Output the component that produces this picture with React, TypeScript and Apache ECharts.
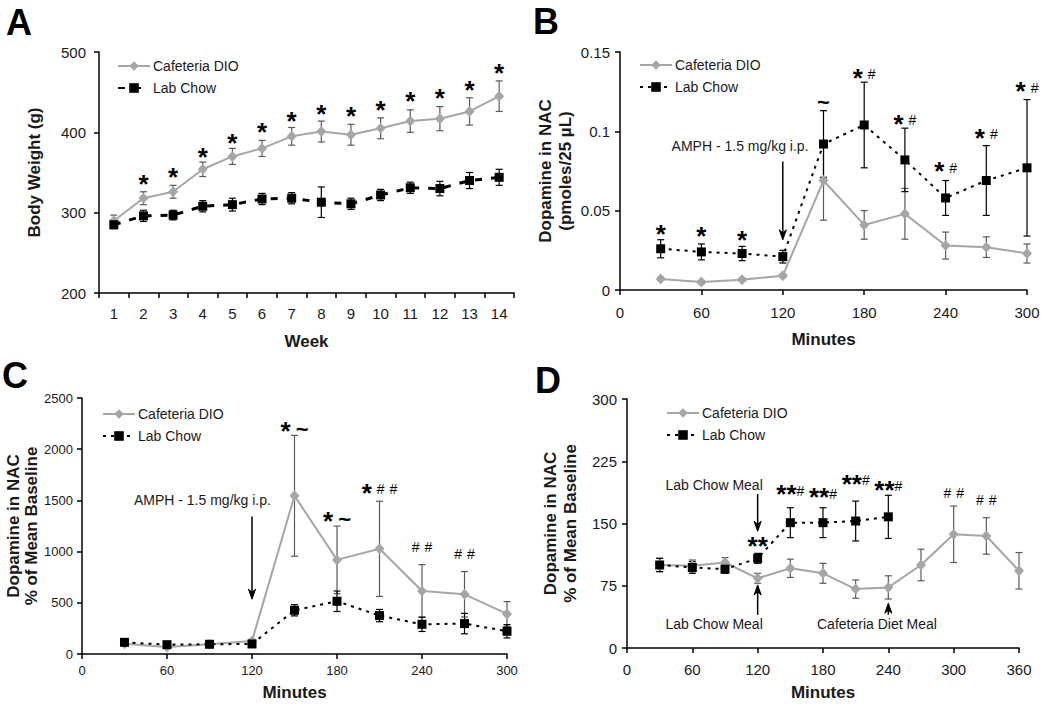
import React, { useEffect, useRef } from "react";
import * as echarts from "echarts";

const FONT = '"Liberation Sans", Arial, Helvetica, sans-serif';
const GREY = "#a6a6a6";
const GREY_ERR = "#5a5a5a";
const BLACK = "#000000";
const TEXT = "#1a1a1a";

const CAF = "Cafeteria DIO";
const LAB = "Lab Chow";

// ---------- Panel A: body weight ----------
const weekLabels = ["1", "2", "3", "4", "5", "6", "7", "8", "9", "10", "11", "12", "13", "14"];
const aCafMean = [290, 318, 326, 354, 370, 380, 395, 401, 397, 405, 414, 417, 426, 445];
const aCafErr = [7, 8, 8, 9, 10, 10, 11, 13, 13, 13, 14, 15, 17, 19];
const aLabMean = [285, 296, 297, 308, 310, 317, 318, 313, 311, 322, 331, 330, 340, 344];
const aLabErr = [5, 7, 6, 7, 8, 7, 7, 19, 7, 7, 7, 9, 10, 10];
const aAnnX = [1, 2, 3, 4, 5, 6, 7, 8, 9, 10, 11, 12, 13];
const aAnnY = [340, 348, 373, 391, 404, 418, 427, 424, 432, 443, 447, 456, 477];
const aAnnText = ["*", "*", "*", "*", "*", "*", "*", "*", "*", "*", "*", "*", "*"];

// ---------- Panel B: dopamine (pmoles/25 uL) ----------
const bMinutes = [30, 60, 90, 120, 150, 180, 210, 240, 270, 300];
const bCafMean = [0.007, 0.005, 0.0065, 0.009, 0.069, 0.041, 0.048, 0.028, 0.027, 0.023];
const bCafErr = [0.001, 0.001, 0.001, 0.001, 0.025, 0.009, 0.016, 0.0085, 0.0065, 0.006];
const bLabMean = [0.026, 0.024, 0.023, 0.021, 0.092, 0.104, 0.082, 0.058, 0.069, 0.077];
const bLabErr = [0.0057, 0.005, 0.0045, 0.004, 0.021, 0.027, 0.02, 0.011, 0.022, 0.043];
const bAnnX = [30, 60, 90, 150, 180, 210, 240, 270, 300];
const bAnnY = [0.037, 0.0358, 0.0332, 0.119, 0.1357, 0.1068, 0.0767, 0.0978, 0.1273];
const bAnnText = ["*", "*", "*", "~", "* #", "* #", "* #", "* #", "* #"];

// ---------- Panel C: dopamine % of mean baseline ----------
const cMinutes = [30, 60, 90, 120, 150, 180, 210, 240, 270, 300];
const cCafMean = [100, 68, 95, 127, 1545, 919, 1027, 616, 583, 391];
const cCafErr = [15, 10, 12, 15, 590, 330, 465, 257, 222, 121];
const cLabMean = [114, 91, 95, 98, 427, 515, 375, 290, 297, 222];
const cLabErr = [20, 15, 15, 15, 55, 100, 60, 70, 100, 65];
const cAnnX = [150, 180, 210, 240, 270];
const cAnnY = [2207, 1327, 1603, 1039, 967];
const cAnnText = ["* ~", "* ~", "* # #", "# #", "# #"];

// ---------- Panel D: meal dopamine % of mean baseline ----------
const dCafMinutes = [30, 60, 90, 120, 150, 180, 210, 240, 270, 300, 330, 360];
const dCafMean = [100, 99, 103, 84, 96, 90, 71, 73, 100, 137, 135, 93];
const dCafErr = [8, 7, 6, 6, 11, 12, 11, 14, 19, 34, 22, 22];
const dLabMinutes = [30, 60, 90, 120, 150, 180, 210, 240];
const dLabMean = [100, 97, 95, 108, 151, 151, 153, 158];
const dLabErr = [8, 7, 5, 6, 18, 18, 24, 26];
const dAnnX = [120, 150, 180, 210, 240, 300, 330];
const dAnnY = [126.5, 189, 185, 201.6, 194, 186.7, 178];
const dAnnText = ["**", "**#", "**#", "**#", "**#", "# #", "# #"];

// ---------- Arrows & notes ----------
const bArrows = [[120, 0.081, 0.0316]];
const bNoteX = [88.5];
const bNoteY = [0.0905];
const bNoteText = ["AMPH - 1.5 mg/kg i.p."];

const cArrows = [[120, 1343, 535]];
const cNoteX = [85];
const cNoteY = [1506];
const cNoteText = ["AMPH - 1.5 mg/kg i.p."];

const dArrows = [
  [120, 185.5, 140.6],
  [120, 40, 76],
  [240, 40, 54],
];
const dNoteX = [80, 80, 229.5];
const dNoteY = [196, 29, 29];
const dNoteText = ["Lab Chow Meal", "Lab Chow Meal", "Cafeteria Diet Meal"];

const RICH: any = {
  s: { fontSize: 26, fontWeight: "bold", fontFamily: FONT, fill: BLACK, padding: [0, 0] },
  h: { fontSize: 14, fontFamily: FONT, fill: BLACK, padding: [0, 0, 7, 0] },
  t: { fontSize: 22, fontWeight: "bold", fontFamily: FONT, fill: BLACK, padding: [0, 0, 3, 0] },
  sp: { fontSize: 18, fontFamily: FONT, fill: BLACK },
};

function toRich(s: string): string {
  return s
    .split("")
    .map((c) => (c === "*" ? "{s|*}" : c === "#" ? "{h|#}" : c === "~" ? "{t|~}" : "{sp| }"))
    .join("");
}

function errSeries(idx: number, xs: number[], mean: number[], err: number[], color: string) {
  return {
    type: "custom",
    xAxisIndex: idx,
    yAxisIndex: idx,
    z: 2,
    silent: true,
    data: xs.map((x, i) => [x, mean[i], err[i]]),
    renderItem: (params: any, api: any) => {
      const x = api.value(0);
      const m = api.value(1);
      const e = api.value(2);
      const top = api.coord([x, m + e]);
      const bot = api.coord([x, m - e]);
      const w = 3.5;
      const st = { stroke: color, lineWidth: 1.2 };
      return {
        type: "group",
        children: [
          { type: "line", shape: { x1: top[0], y1: top[1], x2: bot[0], y2: bot[1] }, style: st },
          { type: "line", shape: { x1: top[0] - w, y1: top[1], x2: top[0] + w, y2: top[1] }, style: st },
          { type: "line", shape: { x1: bot[0] - w, y1: bot[1], x2: bot[0] + w, y2: bot[1] }, style: st },
        ],
      };
    },
  };
}

function cafLine(idx: number, name: string, xs: number[] | null, mean: number[]) {
  return {
    type: "line",
    name,
    xAxisIndex: idx,
    yAxisIndex: idx,
    z: 3,
    data: xs ? xs.map((x, i) => [x, mean[i]]) : mean,
    symbol: "diamond",
    symbolSize: [10, 11],
    showAllSymbol: true,
    itemStyle: { color: GREY },
    lineStyle: { color: GREY, width: 2 },
  };
}

function labLine(idx: number, name: string, xs: number[] | null, mean: number[], dash: number[], width: number) {
  return {
    type: "line",
    name,
    xAxisIndex: idx,
    yAxisIndex: idx,
    z: 4,
    data: xs ? xs.map((x, i) => [x, mean[i]]) : mean,
    symbol: "rect",
    symbolSize: 9,
    showAllSymbol: true,
    itemStyle: { color: BLACK },
    lineStyle: { color: BLACK, width, type: dash },
  };
}

function annSeries(idx: number, xs: number[], ys: number[], texts: string[]) {
  return {
    type: "custom",
    xAxisIndex: idx,
    yAxisIndex: idx,
    z: 6,
    silent: true,
    data: xs.map((x, i) => [x, ys[i]]),
    renderItem: (params: any, api: any) => {
      const p = api.coord([api.value(0), api.value(1)]);
      return {
        type: "text",
        x: p[0],
        y: p[1] + 3,
        style: {
          text: toRich(texts[params.dataIndex]),
          rich: RICH,
          align: "center",
          verticalAlign: "middle",
        },
      };
    },
  };
}

function noteSeries(idx: number, xs: number[], ys: number[], texts: string[]) {
  return {
    type: "custom",
    xAxisIndex: idx,
    yAxisIndex: idx,
    z: 6,
    silent: true,
    data: xs.map((x, i) => [x, ys[i]]),
    renderItem: (params: any, api: any) => {
      const p = api.coord([api.value(0), api.value(1)]);
      return {
        type: "text",
        x: p[0],
        y: p[1],
        style: {
          text: texts[params.dataIndex],
          fontSize: 14,
          fontFamily: FONT,
          fill: TEXT,
          align: "center",
          verticalAlign: "middle",
        },
      };
    },
  };
}

function arrowSeries(idx: number, arrows: number[][]) {
  return {
    type: "custom",
    xAxisIndex: idx,
    yAxisIndex: idx,
    z: 6,
    silent: true,
    data: arrows,
    renderItem: (params: any, api: any) => {
      const x = api.value(0);
      const a = api.coord([x, api.value(1)]);
      const b = api.coord([x, api.value(2)]);
      const dir = b[1] > a[1] ? 1 : -1;
      const hl = 10;
      const hw = 3.5;
      return {
        type: "group",
        children: [
          {
            type: "line",
            shape: { x1: a[0], y1: a[1], x2: b[0], y2: b[1] - dir * 4 },
            style: { stroke: BLACK, lineWidth: 1.5 },
          },
          {
            type: "polygon",
            shape: {
              points: [
                [b[0] - hw, b[1] - dir * hl],
                [b[0], b[1]],
                [b[0] + hw, b[1] - dir * hl],
                [b[0], b[1] - dir * (hl - 3)],
              ],
            },
            style: { fill: BLACK, stroke: BLACK, lineWidth: 1 },
          },
        ],
      };
    },
  };
}

const axisLineStyle = { color: BLACK, width: 1.5 };

function xValueAxis(idx: number, max: number, labelMargin: number, nameGap: number, fontSize: number) {
  return {
    type: "value",
    gridIndex: idx,
    min: 0,
    max,
    interval: 60,
    name: "Minutes",
    nameLocation: "middle",
    nameGap,
    nameTextStyle: { fontSize: 17, fontWeight: "bold", color: TEXT, fontFamily: FONT },
    axisLine: { show: true, lineStyle: axisLineStyle },
    axisTick: { show: true, length: 5, lineStyle: axisLineStyle },
    axisLabel: { fontSize, color: TEXT, margin: labelMargin, fontFamily: FONT, formatter: (v: number) => String(v) },
    splitLine: { show: false },
  };
}

function yValueAxis(
  idx: number,
  min: number,
  max: number,
  interval: number,
  name: string,
  nameGap: number,
  lineHeight: number,
  labelMargin: number,
  fontSize: number
) {
  return {
    type: "value",
    gridIndex: idx,
    min,
    max,
    interval,
    name,
    nameLocation: "middle",
    nameGap,
    nameTextStyle: { fontSize: 17, fontWeight: "bold", color: TEXT, fontFamily: FONT, lineHeight },
    axisLine: { show: true, lineStyle: axisLineStyle },
    axisTick: { show: true, length: 5, lineStyle: axisLineStyle },
    axisLabel: {
      fontSize,
      color: TEXT,
      margin: labelMargin,
      fontFamily: FONT,
      formatter: (v: number) => String(parseFloat(v.toFixed(4))),
    },
    splitLine: { show: false },
  };
}

function legend(prefix: string, left: number, top: number) {
  return {
    orient: "vertical",
    left,
    top,
    padding: 0,
    itemWidth: 32,
    itemHeight: 12,
    itemGap: 8,
    selectedMode: false,
    data: [prefix + "|" + CAF, prefix + "|" + LAB],
    formatter: (n: string) => n.split("|")[1],
    textStyle: { fontSize: 14, color: TEXT, fontFamily: FONT, padding: [0, 0, 0, -2] },
  };
}

function panelLetter(t: string, x: number, y: number) {
  return {
    type: "text",
    x,
    y,
    style: {
      text: t,
      fontSize: 36,
      fontWeight: "bold",
      fontFamily: FONT,
      fill: BLACK,
      align: "center",
      verticalAlign: "middle",
    },
  };
}

const aIdx = weekLabels.map((_, i) => i);

const option: any = {
  animation: false,
  backgroundColor: "#ffffff",
  textStyle: { fontFamily: FONT },
  grid: [
    { left: 99, top: 52, width: 415, height: 241 },
    { left: 620, top: 52, width: 407, height: 238 },
    { left: 82, top: 398, width: 425, height: 256 },
    { left: 627, top: 399, width: 392, height: 249 },
  ],
  xAxis: [
    {
      type: "category",
      gridIndex: 0,
      data: weekLabels,
      name: "Week",
      nameLocation: "middle",
      nameGap: 40,
      nameTextStyle: { fontSize: 17, fontWeight: "bold", color: TEXT, fontFamily: FONT },
      axisLine: { show: true, lineStyle: axisLineStyle },
      axisTick: { show: true, length: 5, lineStyle: axisLineStyle },
      axisLabel: { fontSize: 15, color: TEXT, margin: 13, interval: 0, fontFamily: FONT },
      splitLine: { show: false },
    },
    xValueAxis(1, 300, 15, 41, 15),
    xValueAxis(2, 300, 10, 30, 13),
    xValueAxis(3, 360, 14, 36, 15),
  ],
  yAxis: [
    yValueAxis(0, 200, 500, 100, "Body Weight (g)", 55, 20, 13, 15),
    yValueAxis(1, 0, 0.15, 0.05, "Dopamine in NAC\n(pmoles/25 µL)", 45, 20, 10, 15),
    yValueAxis(2, 0, 2500, 500, "Dopamine in NAC\n% of Mean Baseline", 40, 18, 9, 13),
    yValueAxis(3, 0, 300, 75, "Dopamine in NAC\n% of Mean Baseline", 47, 20, 10, 15),
  ],
  legend: [legend("A", 117, 59), legend("B", 639, 58), legend("C", 102, 407), legend("D", 666, 406)],
  graphic: [
    panelLetter("A", 19, 22),
    panelLetter("B", 546, 21),
    panelLetter("C", 15, 375),
    panelLetter("D", 548, 380),
  ],
  series: [
    // A
    errSeries(0, aIdx, aCafMean, aCafErr, GREY_ERR),
    errSeries(0, aIdx, aLabMean, aLabErr, BLACK),
    cafLine(0, "A|" + CAF, null, aCafMean),
    labLine(0, "A|" + LAB, null, aLabMean, [7, 9], 3),
    annSeries(0, aAnnX, aAnnY, aAnnText),
    // B
    errSeries(1, bMinutes, bCafMean, bCafErr, GREY_ERR),
    errSeries(1, bMinutes, bLabMean, bLabErr, BLACK),
    cafLine(1, "B|" + CAF, bMinutes, bCafMean),
    labLine(1, "B|" + LAB, bMinutes, bLabMean, [3, 5], 2),
    annSeries(1, bAnnX, bAnnY, bAnnText),
    arrowSeries(1, bArrows),
    noteSeries(1, bNoteX, bNoteY, bNoteText),
    // C
    errSeries(2, cMinutes, cCafMean, cCafErr, GREY_ERR),
    errSeries(2, cMinutes, cLabMean, cLabErr, BLACK),
    cafLine(2, "C|" + CAF, cMinutes, cCafMean),
    labLine(2, "C|" + LAB, cMinutes, cLabMean, [3, 5], 2),
    annSeries(2, cAnnX, cAnnY, cAnnText),
    arrowSeries(2, cArrows),
    noteSeries(2, cNoteX, cNoteY, cNoteText),
    // D
    errSeries(3, dCafMinutes, dCafMean, dCafErr, GREY_ERR),
    errSeries(3, dLabMinutes, dLabMean, dLabErr, BLACK),
    cafLine(3, "D|" + CAF, dCafMinutes, dCafMean),
    labLine(3, "D|" + LAB, dLabMinutes, dLabMean, [3, 5], 2),
    annSeries(3, dAnnX, dAnnY, dAnnText),
    arrowSeries(3, dArrows),
    noteSeries(3, dNoteX, dNoteY, dNoteText),
  ],
};

export default function App() {
  const ref = useRef<HTMLDivElement>(null);
  useEffect(() => {
    if (!ref.current) return;
    const chart = echarts.init(ref.current, undefined, { renderer: "svg" });
    chart.setOption(option);
    return () => chart.dispose();
  }, []);
  return (
    <div
      ref={ref}
      style={{ position: "fixed", left: 0, top: 0, width: 1050, height: 709, background: "#fff" }}
    />
  );
}
